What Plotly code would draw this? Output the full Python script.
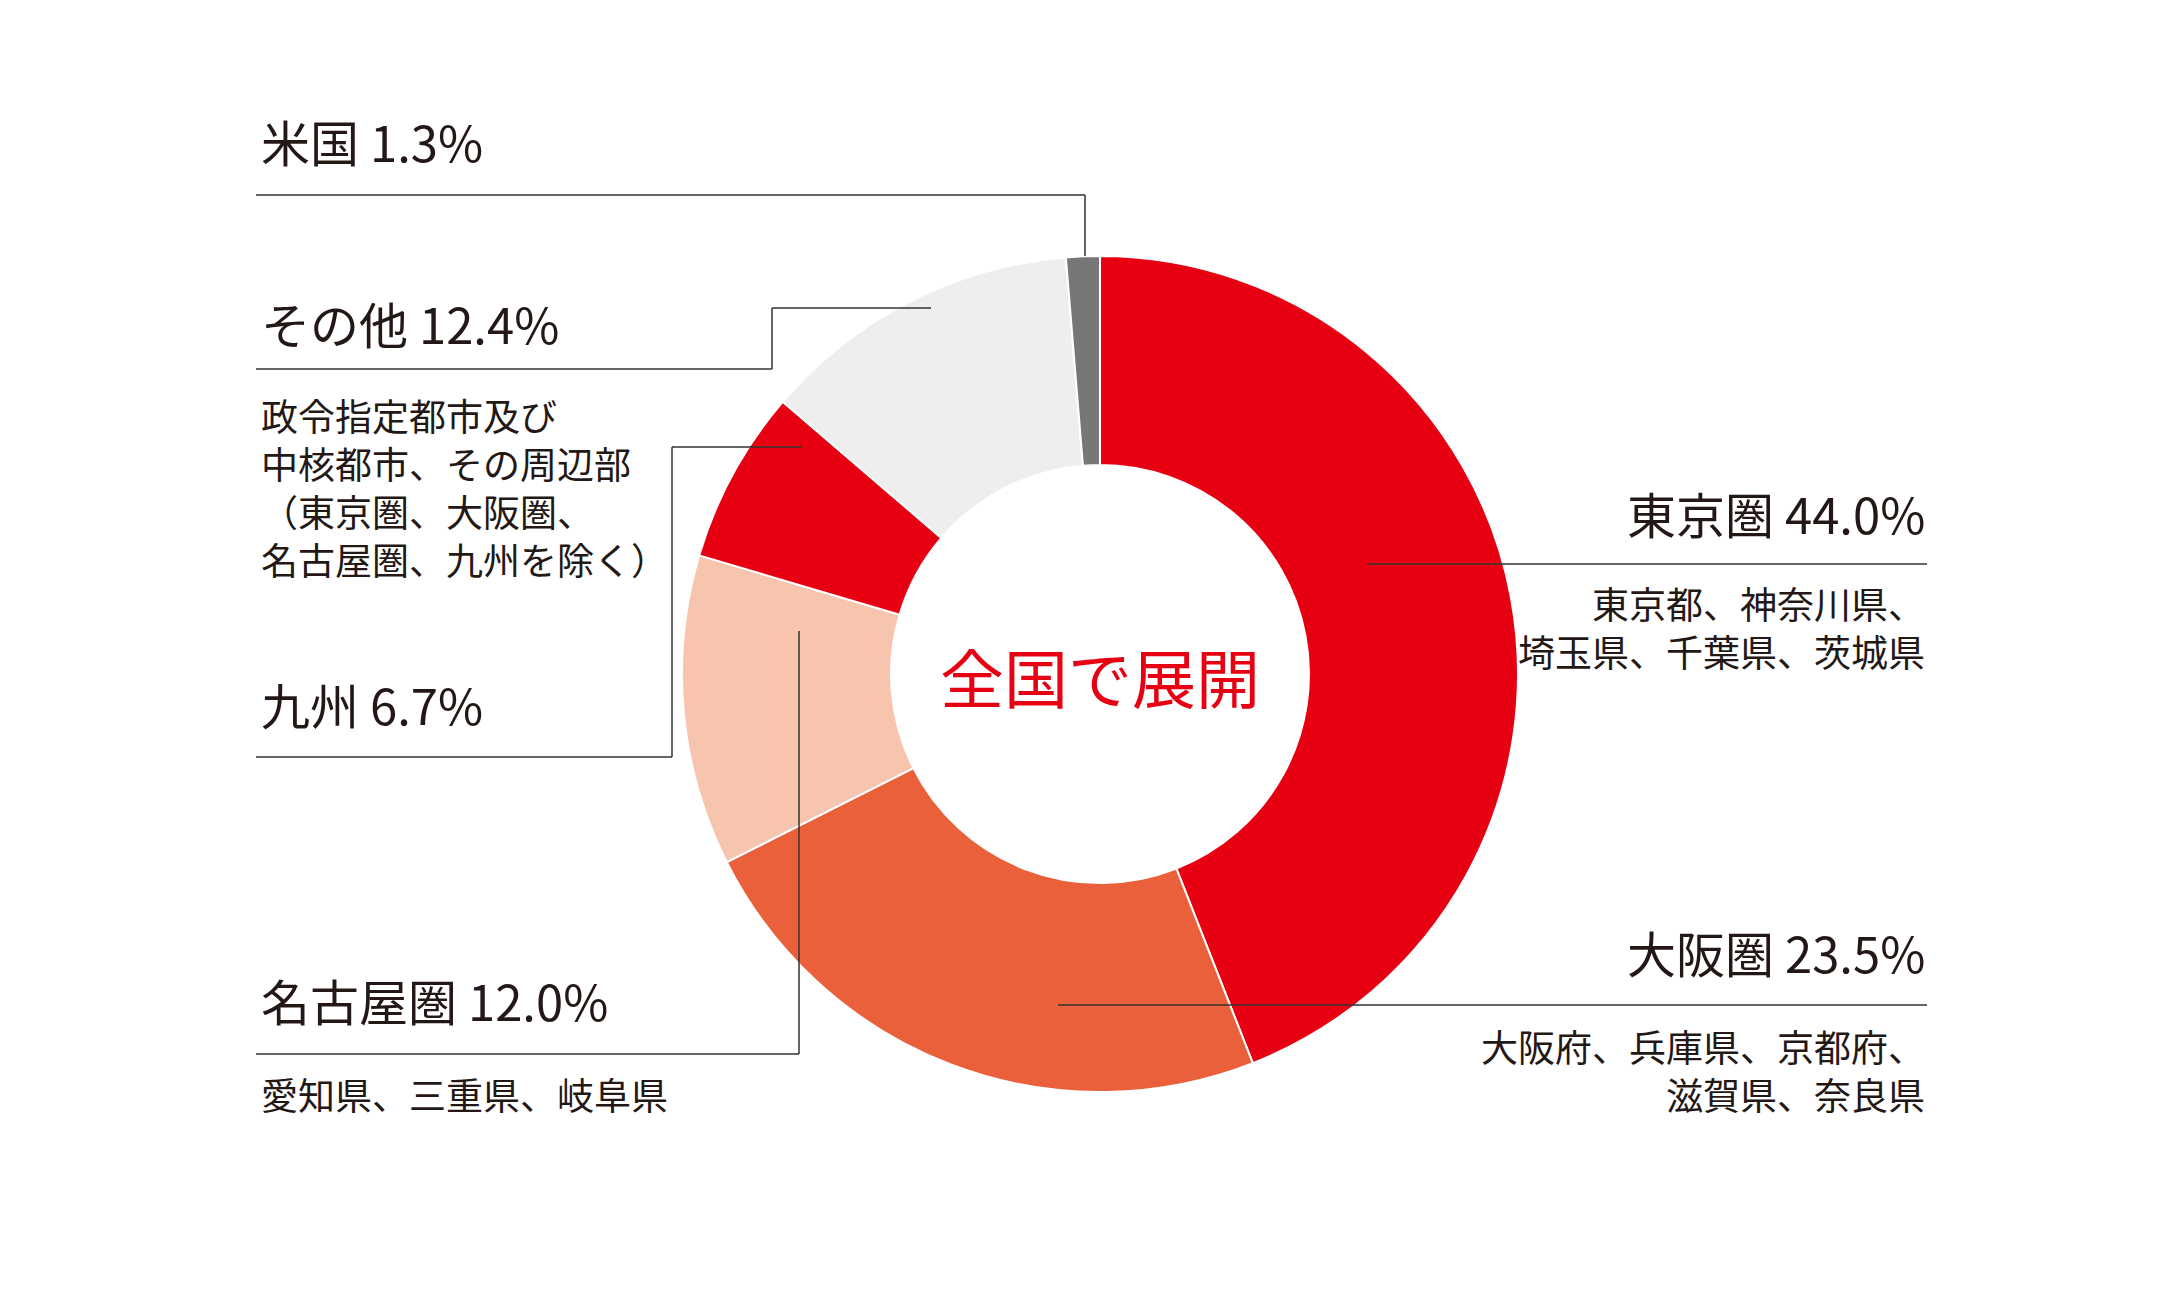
import plotly.graph_objects as go

W, H = 2168, 1293
PAD = 8  # default body margin of the page

regions = ['東京圏', '大阪圏', '名古屋圏', '九州', 'その他', '米国']
shares = [44.0, 23.5, 12.0, 6.7, 12.4, 1.3]
colors = ['#E60012', '#E9603B', '#F7C4AE', '#E60012', '#EEEEEE', '#777777']

sub_tokyo = ['東京都、神奈川県、', '埼玉県、千葉県、茨城県']
sub_osaka = ['大阪府、兵庫県、京都府、', '滋賀県、奈良県']
sub_nagoya = ['愛知県、三重県、岐阜県']
sub_other = ['政令指定都市及び', '中核都市、その周辺部', '（東京圏、大阪圏、', '名古屋圏、九州を除く）']

FONT = 'Noto Sans CJK JP'
TXT = '#231815'
FW, FH = W - 2 * PAD, H - 2 * PAD


def px(x, y):
    # page pixel -> paper coords
    return (x - PAD) / FW, 1 - (y - PAD) / FH


cx, cy, R = 1100, 674, 418
x0, y1 = px(cx - R, cy - R)
x1, y0 = px(cx + R, cy + R)

fig = go.Figure()
fig.add_trace(go.Pie(
    labels=regions, values=shares, hole=0.5, sort=False,
    direction='clockwise', rotation=0,
    marker=dict(colors=colors, line=dict(color='white', width=2)),
    textinfo='none', hoverinfo='label+percent', showlegend=False,
    domain=dict(x=[x0, x1], y=[y0, y1]),
))

# leader lines
leaders = [
    [(256, 195), (1085, 195), (1085, 256)],
    [(256, 369), (772, 369), (772, 308), (931, 308)],
    [(256, 757), (672, 757), (672, 447), (802, 447)],
    [(256, 1054), (799, 1054), (799, 631)],
    [(1367, 564), (1927, 564)],
    [(1058, 1005), (1927, 1005)],
]
for pts in leaders:
    for (ax, ay), (bx, by) in zip(pts[:-1], pts[1:]):
        xa, ya = px(ax, ay)
        xb, yb = px(bx, by)
        fig.add_shape(type='line', xref='paper', yref='paper',
                      x0=xa, y0=ya, x1=xb, y1=yb,
                      line=dict(color='#333333', width=1.5))


def label(text, x, y, size, anchor='left', color=TXT):
    if isinstance(text, list):
        text = '<br>'.join(text)
    xx, yy = px(x, y)
    fig.add_annotation(text=text, x=xx, y=yy, xref='paper', yref='paper',
                       xanchor=anchor, yanchor='middle', showarrow=False,
                       align=anchor, borderpad=0,
                       font=dict(family=FONT, size=size, color=color))


def pct(i):
    return '%s %.1f%%' % (regions[i], shares[i])


BIG = 49
SMALL = 37
LX, RX = 260, 1926

label(pct(5), LX, 141, BIG)
label(pct(4), LX, 322, BIG)
label(sub_other, LX, 487, SMALL)
label(pct(3), LX, 703, BIG)
label(pct(2), LX, 999, BIG)
label(sub_nagoya, LX, 1094, SMALL)

label(pct(0), RX, 512, BIG, 'right')
label(sub_tokyo, RX, 627, SMALL, 'right')
label(pct(1), RX, 951, BIG, 'right')
label(sub_osaka, RX, 1070, SMALL, 'right')

label('全国で展開', cx, 675, 64, 'center', '#E60012')

fig.update_layout(width=FW, height=FH, margin=dict(l=0, r=0, t=0, b=0),
                  paper_bgcolor='white', plot_bgcolor='white')
fig.write_html('out.html')
